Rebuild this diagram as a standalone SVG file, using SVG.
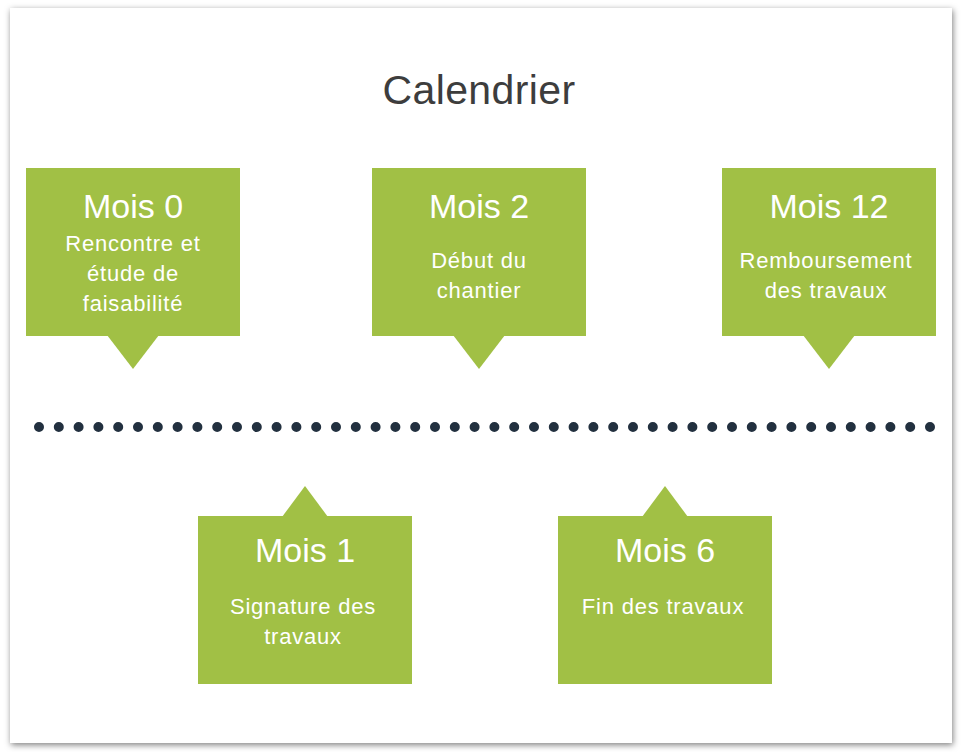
<svg xmlns="http://www.w3.org/2000/svg" width="964" height="752" viewBox="0 0 964 752">
<defs>
<filter id="sh" x="-5%" y="-5%" width="110%" height="110%">
<feDropShadow dx="1" dy="2" stdDeviation="3" flood-color="#000" flood-opacity="0.5"/>
</filter>
<style>
.box{fill:#a1c045}
.t{font-family:"Liberation Sans",Arial,sans-serif;fill:#fff;text-anchor:middle}
.h{font-size:34px}
.s{font-size:22px;letter-spacing:0.8px}
</style>
</defs>
<rect x="0" y="0" width="964" height="752" fill="#fff"/>
<rect x="10" y="8" width="942" height="735" fill="#fff" filter="url(#sh)"/>
<text x="479" y="104" font-family="'Liberation Sans',Arial,sans-serif" font-size="41" letter-spacing="0.4" fill="#3d3d3d" text-anchor="middle">Calendrier</text>
<g id="connectors">
<line x1="39" y1="427" x2="930" y2="427" stroke="#22303f" stroke-width="10" stroke-linecap="round" stroke-dasharray="0 19.8"/>
</g>
<g id="mois0">
<rect class="box" x="26" y="168" width="214" height="168"/>
<polygon class="box" points="107,335 159,335 133,369"/>
<text class="t h" x="133" y="218">Mois 0</text>
<text class="t s" x="133" y="251">Rencontre et</text>
<text class="t s" x="133" y="281">étude de</text>
<text class="t s" x="133" y="311">faisabilité</text>
</g>
<g id="mois2">
<rect class="box" x="372" y="168" width="214" height="168"/>
<polygon class="box" points="453,335 505,335 479,369"/>
<text class="t h" x="479" y="218">Mois 2</text>
<text class="t s" x="479" y="268">Début du</text>
<text class="t s" x="479" y="298">chantier</text>
</g>
<g id="mois12">
<rect class="box" x="722" y="168" width="214" height="168"/>
<polygon class="box" points="803,335 855,335 829,369"/>
<text class="t h" x="829" y="218">Mois 12</text>
<text class="t s" x="826" y="268">Remboursement</text>
<text class="t s" x="826" y="298">des travaux</text>
</g>
<g id="mois1">
<rect class="box" x="198" y="516" width="214" height="168"/>
<polygon class="box" points="282,517 328,517 305,486"/>
<text class="t h" x="305" y="562">Mois 1</text>
<text class="t s" x="303" y="614">Signature des</text>
<text class="t s" x="303" y="644">travaux</text>
</g>
<g id="mois6">
<rect class="box" x="558" y="516" width="214" height="168"/>
<polygon class="box" points="642,517 688,517 665,486"/>
<text class="t h" x="665" y="562">Mois 6</text>
<text class="t s" x="663" y="614">Fin des travaux</text>
</g>
</svg>
